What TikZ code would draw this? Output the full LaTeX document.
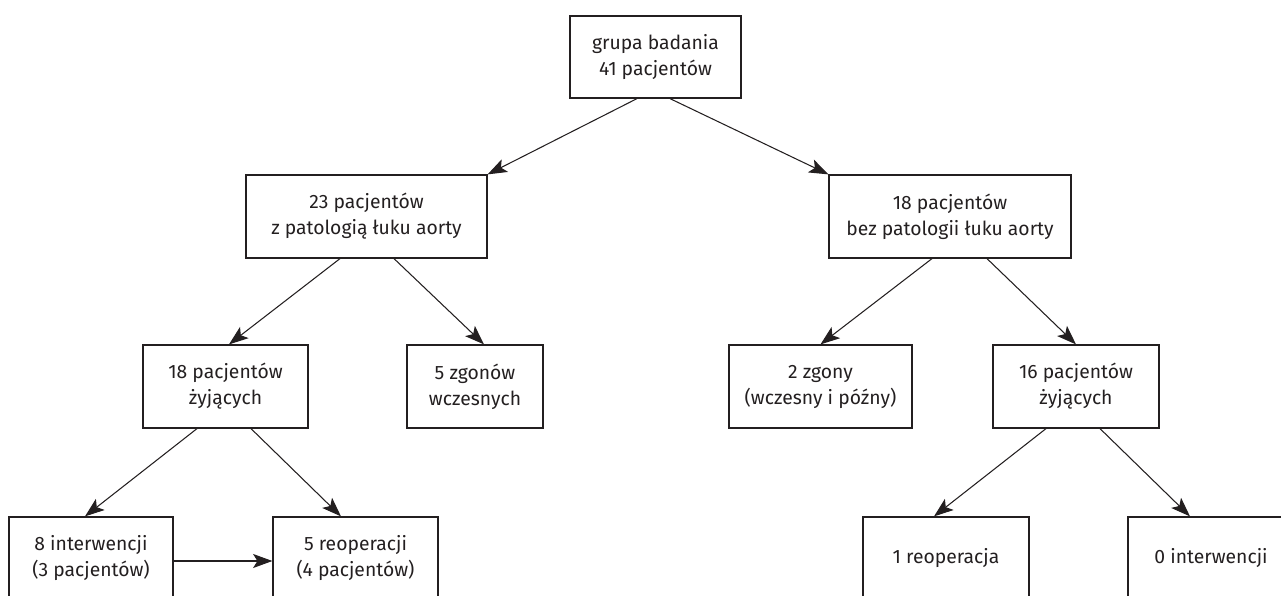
\documentclass[tikz,border=0pt]{standalone}
\usepackage{fontspec}
\setmainfont{Fira Sans}
\usetikzlibrary{arrows.meta}

\definecolor{ink}{RGB}{35,31,32}

\begin{document}
\begin{tikzpicture}[
    box/.style={draw=ink,line width=.7pt,text=ink,align=center,minimum height=1.66cm,
      inner sep=0pt,font=\fontsize{11}{14.8}\selectfont},
    arr/.style={draw=ink,line width=.6pt,arrows={-{Stealth[length=11pt,width=8pt,inset=2.5pt]}}}]

    \clip (0,0) rectangle (25.62,-11.92);

    \node[box,minimum width=3.42cm,minimum height=1.64cm] (a) at (13.11,-1.14) {grupa badania\\41 pacjentów};

    \node[box,minimum width=4.82cm] (b) at ( 7.33,-4.33) {23 pacjentów\\z patologią łuku aorty};
    \node[box,minimum width=4.84cm] (c) at (19.00,-4.33) {18 pacjentów\\bez patologii łuku aorty};

    \node[box,minimum width=3.30cm] (d) at ( 4.51,-7.73) {18 pacjentów\\żyjących};
    \node[box,minimum width=2.72cm] (e) at ( 9.50,-7.73) {5 zgonów\\wczesnych};
    \node[box,minimum width=3.66cm] (f) at (16.41,-7.73) {2 zgony\\(wczesny i późny)};
    \node[box,minimum width=3.32cm] (g) at (21.52,-7.73) {16 pacjentów\\żyjących};

    \node[box,minimum width=3.28cm] (h) at ( 1.82,-11.17) {8 interwencji\\(3 pacjentów)};
    \node[box,minimum width=3.30cm] (i) at ( 7.11,-11.17) {5 reoperacji\\(4 pacjentów)};
    \node[box,minimum width=3.32cm] (j) at (18.92,-11.17) {1 reoperacja};
    \node[box,minimum width=3.32cm] (k) at (24.22,-11.17) {0 interwencji};

    \draw[arr] ([xshift=-.37cm]a.south) to (b.north east);
    \draw[arr] ([xshift=.29cm]a.south) to (c.north west);

    \draw[arr] ([xshift=-.53cm]b.south) to ([xshift=.07cm]d.north);
    \draw[arr] ([xshift=.55cm]b.south) to ([xshift=.18cm]e.north);
    \draw[arr] ([xshift=-.36cm]c.south) to (f.north);
    \draw[arr] ([xshift=.74cm]c.south) to (g.north);

    \draw[arr] ([xshift=-.57cm]d.south) to ([xshift=-.12cm]h.north);
    \draw[arr] ([xshift=.51cm]d.south) to ([xshift=-.29cm]i.north);
    \draw[arr] ([xshift=-.60cm]g.south) to ([xshift=-.24cm]j.north);
    \draw[arr] ([xshift=.48cm]g.south) to ([xshift=-.42cm]k.north);

    \draw[arr] ([yshift=-.05cm]h.east) to ([yshift=-.05cm]i.west);

  \end{tikzpicture}
\end{document}
